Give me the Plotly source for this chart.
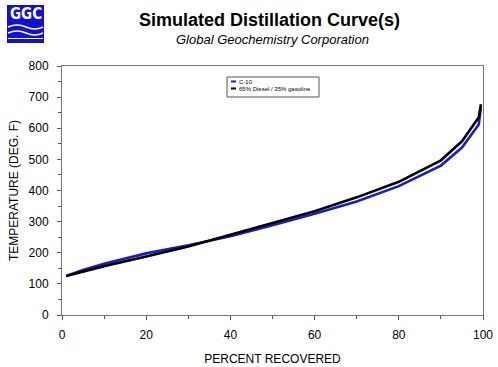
import plotly.graph_objects as go

percent = [1, 5, 10, 20, 30, 40, 50, 60, 70, 80, 90, 95, 99, 99.5]
c10 = [125, 145, 165, 198, 224, 253, 288, 325, 365, 414, 480, 538, 612, 668]
blend = [125, 140, 157, 188, 220, 258, 295, 333, 378, 428, 497, 558, 635, 677]
series_names = ["C-10", "65% Diesel / 35% gasoline"]
series_colors = ["#1a1ad0", "#000000"]

W, H = 498, 367
L, R, T, B = 62, 15, 66, 52
pw, ph = W - L - R, H - T - B

def px(x):
    return (x - L) / pw

def py(y):
    return (H - B - y) / ph

fig = go.Figure()
fig.add_trace(go.Scatter(x=percent, y=c10, mode="lines", name=series_names[0],
                         line=dict(color=series_colors[0], width=2.6)))
fig.add_trace(go.Scatter(x=percent, y=blend, mode="lines", name=series_names[1],
                         line=dict(color=series_colors[1], width=2.6)))

font = "Liberation Sans, Arial, sans-serif"
axis_common = dict(showgrid=False, zeroline=False, showline=True, mirror=True, automargin=False,
                   linecolor="#777777", linewidth=1, ticks="outside", ticklen=4,
                   tickcolor="#555555", tickfont=dict(family=font, size=12, color="#000"))
fig.update_xaxes(range=[0, 100], dtick=20, minor=dict(dtick=10, ticks="outside", ticklen=3, tickcolor="#555555"),
                 ticklabelstandoff=5,
                 title=dict(text="PERCENT RECOVERED", font=dict(family=font, size=12, color="#000"), standoff=13),
                 **axis_common)
fig.update_yaxes(range=[0, 800], dtick=100, minor=dict(dtick=50, ticks="outside", ticklen=3, tickcolor="#555555"),
                 ticklabelstandoff=6,
                 title=dict(text="TEMPERATURE (DEG. F)", font=dict(family=font, size=12, color="#000"), standoff=7),
                 **axis_common)

shapes = []
# logo box
shapes.append(dict(type="rect", xref="paper", yref="paper",
                   x0=px(7), x1=px(44), y0=py(43), y1=py(5),
                   fillcolor="#1010d8", line=dict(width=0), layer="above"))
for yy in (27, 33):
    path = "M {:.4f},{:.4f} Q {:.4f},{:.4f} {:.4f},{:.4f} T {:.4f},{:.4f}".format(
        px(8), py(yy), px(17), py(yy - 4), px(26), py(yy), px(43), py(yy))
    shapes.append(dict(type="path", xref="paper", yref="paper", path=path,
                       line=dict(color="white", width=1.5), layer="above"))
shapes.append(dict(type="line", xref="paper", yref="paper", x0=px(8), x1=px(43),
                   y0=py(38.5), y1=py(38.5), line=dict(color="white", width=1.2), layer="above"))

# legend box (drawn manually to match the small original legend)
shapes.append(dict(type="rect", xref="paper", yref="paper",
                   x0=px(227), x1=px(319), y0=py(97), y1=py(77),
                   fillcolor="white", line=dict(color="#555555", width=1), layer="above"))
legend_rows = [81.5, 88.5]
annotations = []
for name, color, yy in zip(series_names, series_colors, legend_rows):
    shapes.append(dict(type="line", xref="paper", yref="paper", x0=px(231), x1=px(236),
                       y0=py(yy), y1=py(yy), line=dict(color=color, width=2), layer="above"))
    annotations.append(dict(text=name, x=px(236.5), y=py(yy), xref="paper", yref="paper",
                            showarrow=False, xanchor="left", yanchor="middle",
                            font=dict(family=font, size=6, color="#000")))

annotations += [
    dict(text="<b>GGC</b>", x=px(25.5), y=py(14), xref="paper", yref="paper", showarrow=False,
         font=dict(family="DejaVu Sans Condensed, Liberation Sans Narrow, sans-serif", size=15, color="white"),
         xanchor="center", yanchor="middle"),
    dict(text="<b>Simulated Distillation Curve(s)</b>", x=px(269), y=py(20.5), xref="paper", yref="paper",
         showarrow=False, font=dict(family=font, size=18, color="#000"), xanchor="center", yanchor="middle"),
    dict(text="<i>Global Geochemistry Corporation</i>", x=px(272), y=py(39), xref="paper", yref="paper",
         showarrow=False, font=dict(family=font, size=13, color="#000"), xanchor="center", yanchor="middle"),
]

fig.update_layout(
    width=W, height=H, margin=dict(l=L, r=R, t=T, b=B),
    paper_bgcolor="white", plot_bgcolor="white",
    shapes=shapes, annotations=annotations,
    showlegend=False,
)
fig.write_html("out.html", config={"displayModeBar": False},
               post_script="document.body.style.margin='0';document.body.style.padding='0';")
